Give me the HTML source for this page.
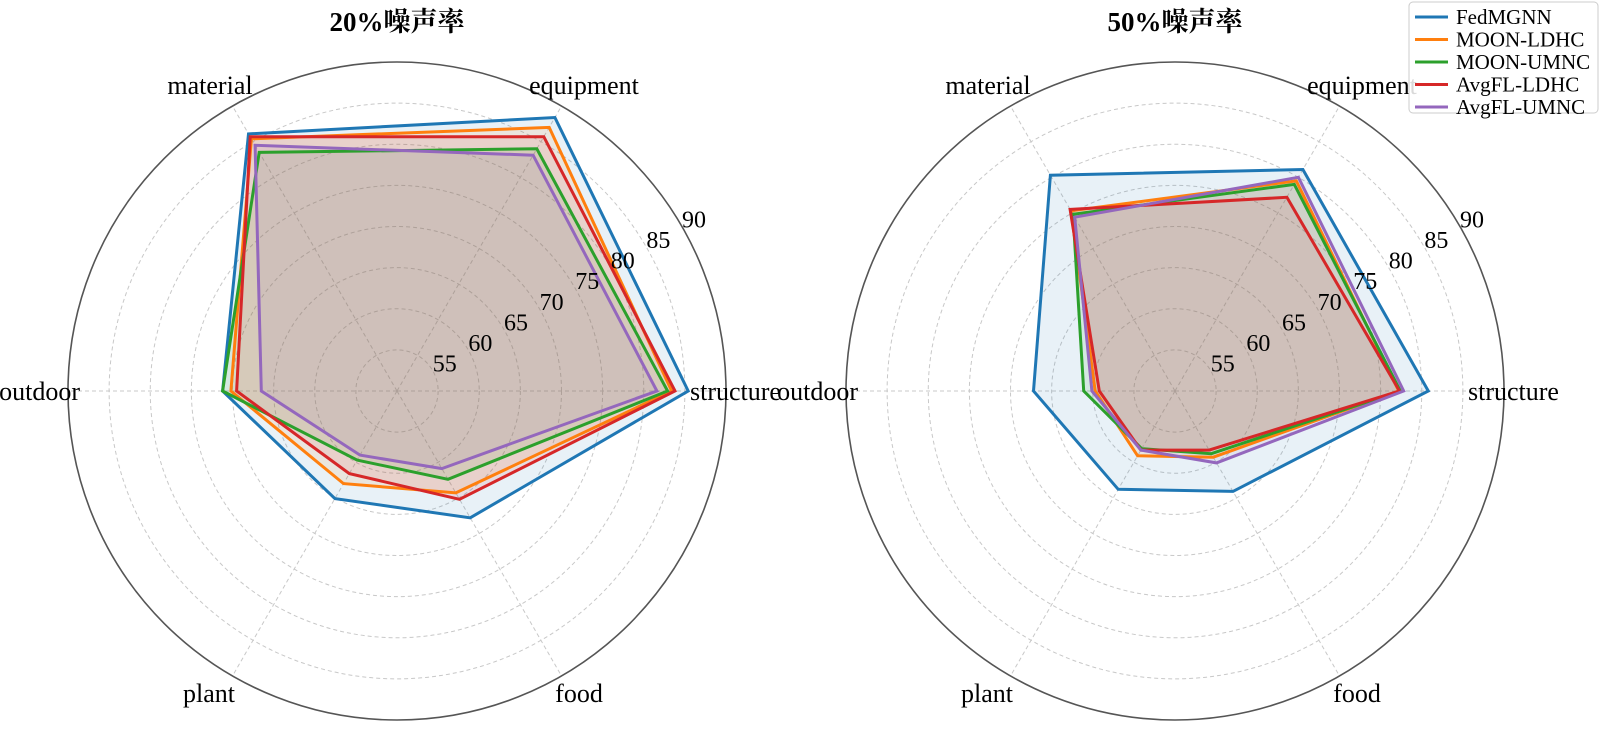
<!DOCTYPE html>
<html><head><meta charset="utf-8"><style>
html,body{margin:0;padding:0;background:#fff;}
svg text{font-family:"Liberation Serif","Noto Serif CJK SC",serif;fill:#000;}
</style></head><body>
<svg id="chart" width="1600" height="724" viewBox="0 0 1600 724" xmlns="http://www.w3.org/2000/svg"></svg>
<script>
const categories = ["structure","equipment","material","outdoor","plant","food"];
const seriesNames = ["FedMGNN","MOON-LDHC","MOON-UMNC","AvgFL-LDHC","AvgFL-UMNC"];
const colors = ["#1f77b4","#ff7f0e","#2ca02c","#d62728","#9467bd"];
const ticks = [55,60,65,70,75,80,85,90];
const titles = ["20%噪声率","50%噪声率"];
// values per chart: [series][category]
const data20_FedMGNN = [85.4,88.4,86.1,71.2,65.1,67.8];
const data20_MOONLDHC = [83.4,87.0,85.4,70.2,63.0,64.3];
const data20_MOONUMNC = [82.9,84.0,83.5,71.2,59.7,62.4];
const data20_AvgFLLDHC = [83.8,85.7,85.7,69.5,61.6,65.2];
const data20_AvgFLUMNC = [81.6,83.1,84.5,66.5,59.0,60.9];
const data50_FedMGNN = [80.8,81.1,80.3,67.2,63.8,64.1];
const data50_MOONLDHC = [77.2,79.5,75.3,59.7,59.1,59.3];
const data50_MOONUMNC = [77.4,79.0,74.8,61.1,58.1,58.8];
const data50_AvgFLLDHC = [77.3,77.2,75.5,59.2,58.3,58.3];
const data50_AvgFLUMNC = [77.8,80.0,74.4,60.1,58.3,60.1];
const charts = [
  [data20_FedMGNN,data20_MOONLDHC,data20_MOONUMNC,data20_AvgFLLDHC,data20_AvgFLUMNC],
  [data50_FedMGNN,data50_MOONLDHC,data50_MOONUMNC,data50_AvgFLLDHC,data50_AvgFLUMNC]
];
const NS="http://www.w3.org/2000/svg";
const svg=document.getElementById('chart');
function mk(tag,attrs,parent){const e=document.createElementNS(NS,tag);for(const k in attrs)e.setAttribute(k,attrs[k]);(parent||svg).appendChild(e);return e;}
const R=329, vMin=50, vMax=90, CY=391;
const centers=[397,1175];
function rScale(v){return (v-vMin)/(vMax-vMin)*R;}
function ang(i){return i*Math.PI*2/categories.length;}
function pt(cx,i,v){const r=rScale(v),a=ang(i);return [cx+r*Math.cos(a),CY-r*Math.sin(a)];}
const labelPos=[
  {dx:293,dy:9,anchor:"start"},{dx:187,dy:-297,anchor:"middle"},{dx:-187,dy:-297,anchor:"middle"},
  {dx:-317,dy:9,anchor:"end"},{dx:-188,dy:311,anchor:"middle"},{dx:182,dy:311,anchor:"middle"}
];
charts.forEach((series,ci)=>{
  const cx=centers[ci];
  const g=mk('g',{});
  
  
  ticks.slice(0,-1).forEach(t=>{
    const c=mk('circle',{cx:cx,cy:CY,r:rScale(t),fill:'none',stroke:'#c8c8c8','stroke-width':1,'stroke-dasharray':'4,3'},g);
    
    
  });
  categories.forEach((c,i)=>{
    const p=pt(cx,i,vMax);
    const l=mk('line',{x1:cx,y1:CY,x2:p[0],y2:p[1],stroke:'#c8c8c8','stroke-width':1,'stroke-dasharray':'4,3'},g);
    
    
  });
  series.forEach((vals,si)=>{
    const pts=vals.map((v,i)=>pt(cx,i,v).map(n=>n.toFixed(1)).join(',')).join(' ');
    const f=mk('polygon',{points:pts,fill:colors[si],'fill-opacity':0.1,stroke:'none'},g);
    
    
  });
  series.forEach((vals,si)=>{
    const pts=vals.map((v,i)=>pt(cx,i,v).map(n=>n.toFixed(1)).join(',')).join(' ');
    const p=mk('polygon',{points:pts,fill:'none',stroke:colors[si],'stroke-width':3,'stroke-linejoin':'miter'},g);
    
    
  });
  const oc=mk('circle',{cx:cx,cy:CY,r:R,fill:'none',stroke:'#555','stroke-width':1.6},g);
  
  
  ticks.forEach(t=>{
    const rr=rScale(t)+14;
    const tx=mk('text',{x:cx+rr*0.866,y:CY-rr*0.5+8,'font-size':24,'text-anchor':'middle'},g);
    tx.textContent=t;
    
    
  });
  categories.forEach((c,i)=>{
    const lp=labelPos[i];
    const tx=mk('text',{x:cx+lp.dx,y:CY+lp.dy,'font-size':26,'text-anchor':lp.anchor},g);
    tx.textContent=c;
    
    
  });
  const tt=mk('text',{x:cx,y:31,'font-size':27,'font-weight':'bold','text-anchor':'middle'},g);
  tt.textContent=titles[ci];
  
  
});
// legend
const lg=mk('g',{});


const box=mk('rect',{x:1409,y:2,width:189,height:111,rx:4,fill:'#fff','fill-opacity':0.85,stroke:'#ccc','stroke-width':1},lg);


seriesNames.forEach((n,i)=>{
  const y=17+i*22.5;
  const ln=mk('line',{x1:1415,y1:y,x2:1448,y2:y,stroke:colors[i],'stroke-width':3},lg);
  
  
  const tx=mk('text',{x:1456,y:y+7,'font-size':21},lg);
  tx.textContent=n;
  
  
});
</script>
</body></html>
